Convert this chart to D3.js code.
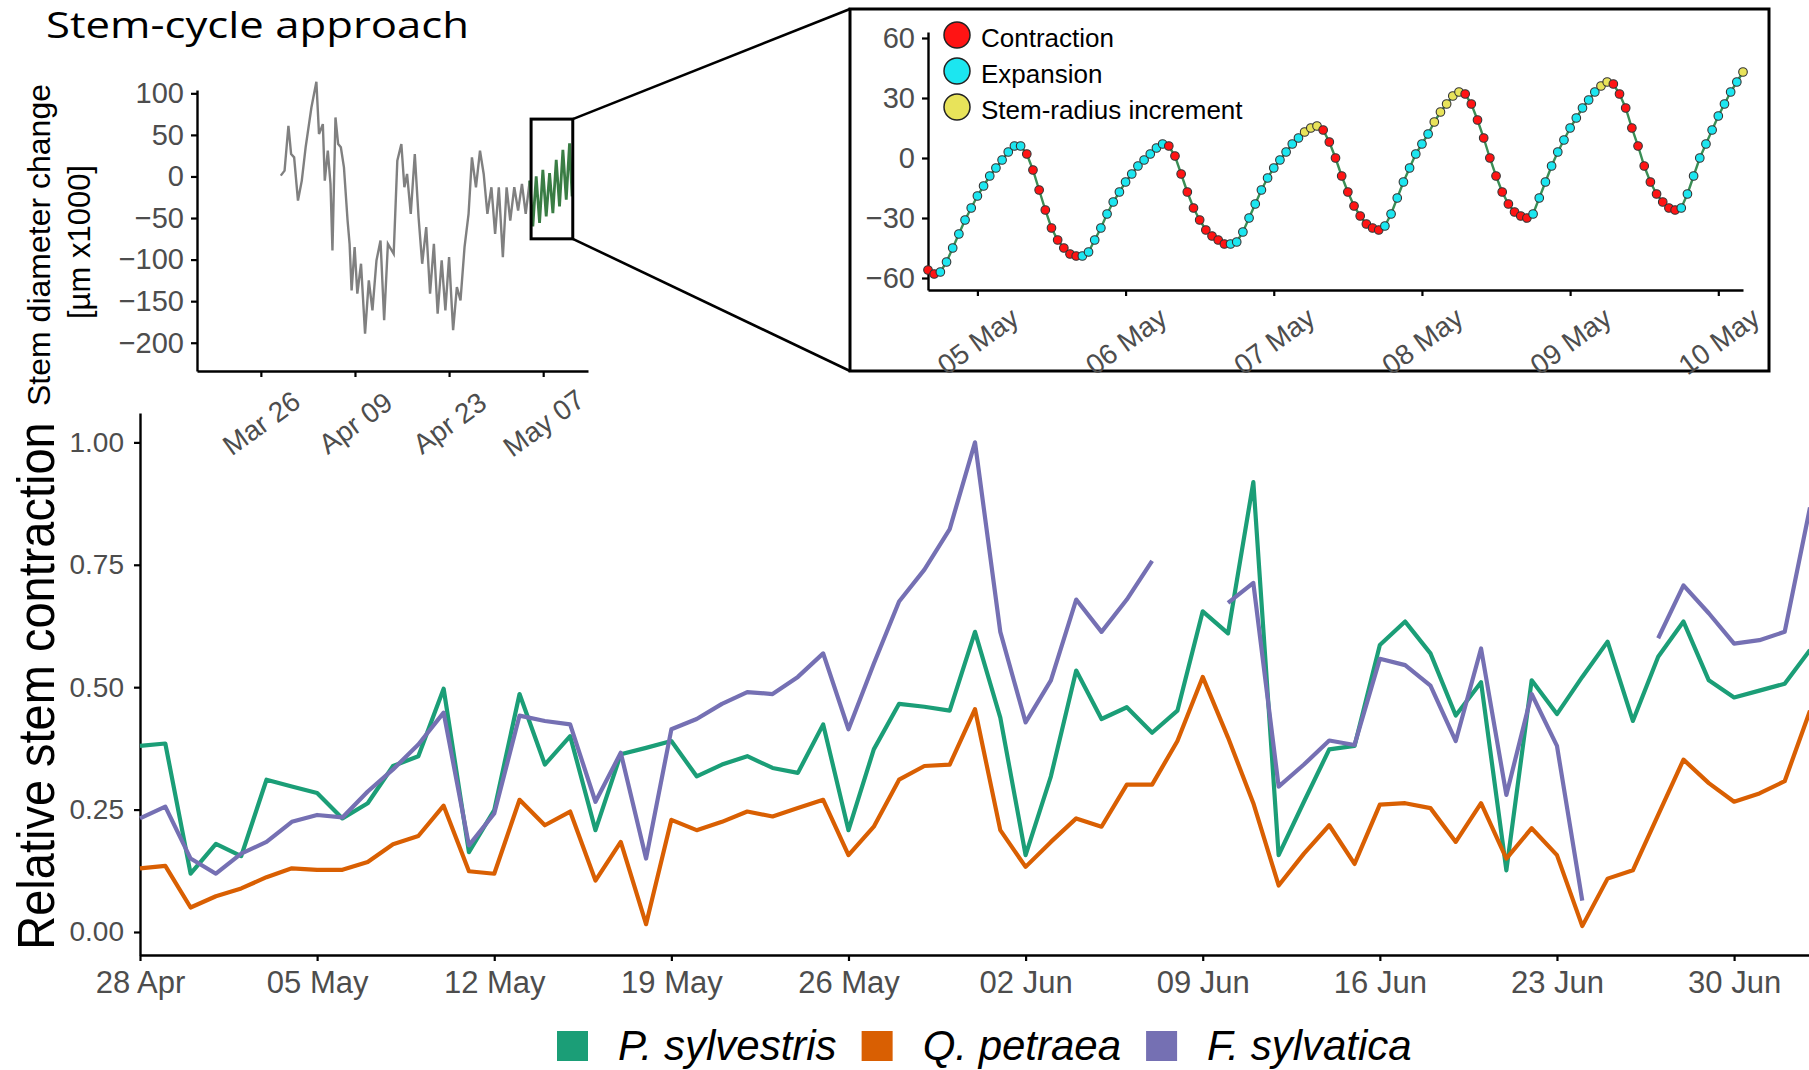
<!DOCTYPE html>
<html>
<head>
<meta charset="utf-8">
<script src="https://cdn.jsdelivr.net/npm/d3@7"></script>
<style>
  body { margin: 0; background: #fff; }
  svg { display: block; }
</style>
</head>
<body>
<div id="chart"></div>
<script>
var font = '"Liberation Sans", Arial, Helvetica, sans-serif';

// ---- main chart: relative stem contraction, one value per day from 28 Apr
var firstDay = new Date(2019, 3, 28);
var lastDay = new Date(2019, 6, 3);
var speciesNames = ["P. sylvestris", "Q. petraea", "F. sylvatica"];
var speciesColors = ["#1B9E77", "#D95F02", "#7570B3"];
var pinus = [0.38, 0.385, 0.119, 0.18, 0.155, 0.311, 0.297, 0.284, 0.232, 0.263,
  0.339, 0.359, 0.497, 0.163, 0.249, 0.486, 0.342, 0.40, 0.208, 0.363,
  0.376, 0.39, 0.318, 0.342, 0.359, 0.335, 0.325, 0.424, 0.208, 0.373,
  0.466, 0.46, 0.452, 0.613, 0.438, 0.157, 0.318, 0.534, 0.435, 0.459,
  0.407, 0.452, 0.655, 0.61, 0.919, 0.157, 0.266, 0.373, 0.38, 0.586,
  0.634, 0.569, 0.442, 0.51, 0.126, 0.514, 0.445, 0.521, 0.593, 0.431,
  0.562, 0.634, 0.514, 0.479, 0.493, 0.507, 0.576];
var quercus = [0.13, 0.135, 0.05, 0.073, 0.089, 0.112, 0.13, 0.127, 0.127, 0.143,
  0.179, 0.196, 0.258, 0.124, 0.119, 0.27, 0.218, 0.246, 0.105, 0.184,
  0.016, 0.229, 0.208, 0.225, 0.246, 0.236, 0.253, 0.27, 0.157, 0.215,
  0.311, 0.339, 0.342, 0.455, 0.208, 0.133, 0.184, 0.232, 0.215, 0.301,
  0.301, 0.39, 0.521, 0.397, 0.263, 0.095, 0.16, 0.218, 0.139, 0.26,
  0.263, 0.253, 0.184, 0.263, 0.15, 0.212, 0.157, 0.012, 0.109, 0.126,
  0.239, 0.352, 0.304, 0.266, 0.283, 0.308, 0.452];
var fagus = [0.232, 0.256, 0.15, 0.119, 0.16, 0.184, 0.225, 0.239, 0.234, 0.287,
  0.332, 0.383, 0.448, 0.177, 0.242, 0.442, 0.431, 0.424, 0.266, 0.366,
  0.15, 0.414, 0.435, 0.466, 0.49, 0.486, 0.521, 0.569, 0.414, 0.548,
  0.675, 0.74, 0.823, 1.0, 0.613, 0.428, 0.514, 0.679, 0.613, 0.679,
  0.758, null, null, 0.672, 0.713, 0.297, 0.342, 0.391, 0.382, 0.558,
  0.545, 0.503, 0.39, 0.579, 0.28, 0.486, 0.38, 0.064, null, null,
  0.6, 0.708, 0.651, 0.589, 0.596, 0.613, 0.867];
var contractionTicks = [0, 0.25, 0.5, 0.75, 1];

// ---- small panel: stem diameter change, days after 26 Mar
var panelOrigin = new Date(2019, 2, 26);
var panelTicks = ["2019-03-26", "2019-04-09", "2019-04-23", "2019-05-07"];
var panelValueTicks = [-200, -150, -100, -50, 0, 50, 100];
var stemDay = [2.96, 3.53, 4.10, 4.50, 4.95, 5.52, 6.09, 6.66, 7.52, 8.26,
  8.65, 9.22, 9.51, 9.96, 10.36, 10.65, 11.10, 11.50, 11.90, 12.36,
  12.90, 13.20, 13.50, 13.95, 14.35, 14.90, 15.50, 16.06, 16.60, 17.20,
  17.80, 18.34, 18.90, 19.76, 20.30, 20.90, 21.35, 21.75, 22.30, 22.90,
  23.46, 24.00, 24.60, 25.17, 25.74, 26.30, 26.90, 27.45, 28.00, 28.60,
  29.16, 29.70, 30.30, 30.90, 31.40, 32.00, 32.60, 33.15, 33.70, 34.30,
  34.85, 35.40, 36.00, 36.56, 37.10, 37.70, 38.27, 38.84, 39.40, 40.00,
  40.46, 40.96, 41.46, 41.95, 42.45, 42.95, 43.44, 43.94, 44.43, 44.93,
  45.43, 45.92, 46.30];
var stemValue = [1, 7, 61, 27, 23, -29, -5, 35, 83, 114,
  51, 63, -5, 31, -9, -89, 71, 39, 35, 11,
  -53, -81, -137, -85, -141, -105, -189, -125, -161, -101,
  -77, -173, -81, -93, 19, 39, -13, 3, -45, 27,
  -49, -105, -61, -141, -81, -165, -101, -161, -97, -185,
  -133, -149, -85, -45, 23, -13, 31, 3, -45, -13,
  -69, -13, -97, -13, -53, -13, -41, -9, -45, -5,
  -60, 0, -56, 8, -48, 4, -44, 20, -36, 32,
  -28, 40, -24];
var zoomFromDay = 40.0;
var boxDays = [40.2, 46.4];
var boxValues = [-75, 69];

// ---- inset: hourly stem radius change from 04 May 16:00
var insetStart = new Date(2019, 4, 4, 16);
var insetValues = [-56, -58, -57, -52, -45, -38, -31, -25, -19, -14, -9, -5, -1, 3, 6, 6,
  2, -6, -16, -26, -35, -41, -45, -48, -49, -49, -47,
  -41, -35, -28, -22, -17, -12, -8, -4, -1, 2, 5, 7, 6,
  1, -8, -17, -25, -31, -36, -39, -41, -43, -43, -42,
  -37, -30, -23, -16, -10, -5, -1, 3, 7, 10, 13, 15, 16,
  14, 8, 0, -9, -17, -24, -29, -33, -35, -36, -34,
  -28, -20, -12, -5, 2, 7, 12, 18, 23, 27, 31, 33, 32,
  27, 19, 10, 0, -9, -17, -23, -27, -29, -30, -28,
  -20, -12, -4, 3, 9, 15, 20, 25, 29, 33, 36, 38, 37,
  32, 25, 15, 6, -4, -12, -18, -22, -25, -26, -25,
  -18, -9, 0, 7, 14, 21, 27, 33, 38, 43];
var priorMax = 10;
var insetValueTicks = [-60, -30, 0, 30, 60];
var phaseNames = ["Contraction", "Expansion", "Stem-radius increment"];
var phaseColors = ["#FF1414", "#1CE6F0", "#E8E35A"];

var parseDay = d3.timeParse("%Y-%m-%d");

var svg = d3.select("#chart")
        .append("svg")
        .attr("width", 1809)
        .attr("height", 1070);

function styleAxis(g, size) {
    g.attr("font-family", font).attr("font-size", size);
    g.select(".domain").attr("stroke", "#000").attr("stroke-width", 2.4);
    g.selectAll(".tick line").attr("stroke", "#000").attr("stroke-width", 2.2);
    g.selectAll(".tick text").attr("fill", "#4D4D4D");
}

// the reference crops the top of this title; kept just inside the page here
svg.append("text")
        .attr("x", 46)
        .attr("y", 38)
        .attr("font-family", '"Open Sans", "Noto Sans", sans-serif')
        .attr("font-size", 36)
        .attr("textLength", 423)
        .attr("lengthAdjust", "spacingAndGlyphs")
        .attr("fill", "#000")
        .text("Stem-cycle approach");

// ================= small panel =================
var px = d3.scaleTime()
        .domain([new Date(2019, 2, 16, 12), new Date(2019, 4, 13, 16)])
        .range([197, 588]);
var py = d3.scaleLinear().domain([-234, 104]).range([371, 90]);

function dayToDate(d) {
    return new Date(panelOrigin.getTime() + d * 864e5);
}

var stemPoints = stemDay.map(function (d, i) {
    return {t: dayToDate(d), v: stemValue[i], day: d};
});

var panelX = svg.append("g")
        .attr("transform", "translate(0,371)")
        .call(d3.axisBottom(px)
            .tickValues(panelTicks.map(parseDay))
            .tickFormat(d3.timeFormat("%b %d"))
            .tickSize(6)
            .tickSizeOuter(0));
styleAxis(panelX, 28);
panelX.selectAll(".tick text")
        .attr("y", 0)
        .attr("dy", "0.35em")
        .attr("text-anchor", "middle")
        .attr("transform", "translate(0,52) rotate(-36)");

var panelY = svg.append("g")
        .attr("transform", "translate(197,0)")
        .call(d3.axisLeft(py)
            .tickValues(panelValueTicks)
            .tickSize(6)
            .tickPadding(7)
            .tickSizeOuter(0));
styleAxis(panelY, 29);

var stemLine = d3.line()
        .x(function (d) { return px(d.t); })
        .y(function (d) { return py(d.v); });

svg.append("path")
        .datum(stemPoints.filter(function (d) { return d.day <= zoomFromDay; }))
        .attr("d", stemLine)
        .attr("fill", "none")
        .attr("stroke", "#808080")
        .attr("stroke-width", 2.4);

svg.append("path")
        .datum(stemPoints.filter(function (d) { return d.day >= zoomFromDay; }))
        .attr("d", stemLine)
        .attr("fill", "none")
        .attr("stroke", "#3A7D44")
        .attr("stroke-width", 2.8);

var bx0 = px(dayToDate(boxDays[0])), bx1 = px(dayToDate(boxDays[1]));
var by0 = py(boxValues[1]), by1 = py(boxValues[0]);
svg.append("rect")
        .attr("x", bx0)
        .attr("y", by0)
        .attr("width", bx1 - bx0)
        .attr("height", by1 - by0)
        .attr("fill", "none")
        .attr("stroke", "#000")
        .attr("stroke-width", 3);

svg.append("text")
        .attr("transform", "translate(50,245) rotate(-90)")
        .attr("text-anchor", "middle")
        .attr("font-family", font)
        .attr("font-size", 32)
        .text("Stem diameter change");
svg.append("text")
        .attr("transform", "translate(90,242) rotate(-90)")
        .attr("text-anchor", "middle")
        .attr("font-family", font)
        .attr("font-size", 31)
        .text("[µm x1000]");

// ================= inset =================
var frame = {x0: 850, y0: 9, x1: 1769, y1: 371};
svg.append("rect")
        .attr("x", frame.x0)
        .attr("y", frame.y0)
        .attr("width", frame.x1 - frame.x0)
        .attr("height", frame.y1 - frame.y0)
        .attr("fill", "#fff")
        .attr("stroke", "#000")
        .attr("stroke-width", 3);

svg.append("line")
        .attr("x1", bx1).attr("y1", by0)
        .attr("x2", frame.x0).attr("y2", frame.y0)
        .attr("stroke", "#000").attr("stroke-width", 2.6);
svg.append("line")
        .attr("x1", bx1).attr("y1", by1)
        .attr("x2", frame.x0).attr("y2", frame.y1)
        .attr("stroke", "#000").attr("stroke-width", 2.6);

var insetPoints = [];
var runMax = priorMax;
insetValues.forEach(function (v, i) {
    var phase;
    if (v > runMax) { phase = 2; runMax = v; }
    else if (i === 0 || v < insetValues[i - 1]) { phase = 0; }
    else { phase = 1; }
    insetPoints.push({t: d3.timeHour.offset(insetStart, i), v: v, phase: phase});
});

var ix = d3.scaleTime()
        .domain([insetStart, insetPoints[insetPoints.length - 1].t])
        .range([928, 1743]);
var iy = d3.scaleLinear().domain([-66, 63]).range([290, 32]);

var insetX = svg.append("g")
        .attr("transform", "translate(0,290)")
        .call(d3.axisBottom(ix)
            .tickValues(d3.timeDay.range(new Date(2019, 4, 5), new Date(2019, 4, 11)))
            .tickFormat(d3.timeFormat("%d %b"))
            .tickSize(6)
            .tickSizeOuter(0));
styleAxis(insetX, 28);
insetX.selectAll(".tick text")
        .attr("y", 0)
        .attr("dy", "0.35em")
        .attr("text-anchor", "middle")
        .attr("transform", "translate(0,51) rotate(-36)");

var insetY = svg.append("g")
        .attr("transform", "translate(928,0)")
        .call(d3.axisLeft(iy)
            .tickValues(insetValueTicks)
            .tickSize(6)
            .tickPadding(7)
            .tickSizeOuter(0));
styleAxis(insetY, 29);

svg.append("path")
        .datum(insetPoints)
        .attr("d", d3.line()
            .x(function (d) { return ix(d.t); })
            .y(function (d) { return iy(d.v); }))
        .attr("fill", "none")
        .attr("stroke", "#3A8E55")
        .attr("stroke-width", 2.4);

svg.append("g")
        .selectAll("circle")
        .data(insetPoints)
        .join("circle")
        .attr("cx", function (d) { return ix(d.t); })
        .attr("cy", function (d) { return iy(d.v); })
        .attr("r", 4.3)
        .attr("fill", function (d) { return phaseColors[d.phase]; })
        .attr("stroke", "#333")
        .attr("stroke-width", 1.1);

var phaseLegend = svg.append("g").attr("transform", "translate(957,35)");
phaseNames.forEach(function (name, i) {
    phaseLegend.append("circle")
            .attr("cx", 0)
            .attr("cy", i * 36)
            .attr("r", 13)
            .attr("fill", phaseColors[i])
            .attr("stroke", "#222")
            .attr("stroke-width", 1.5);
    phaseLegend.append("text")
            .attr("x", 24)
            .attr("y", i * 36 + 12)
            .attr("font-family", font)
            .attr("font-size", 26)
            .attr("fill", "#000")
            .text(name);
});

// ================= main chart =================
var days = d3.timeDay.range(firstDay, d3.timeDay.offset(lastDay, 1));
var mx = d3.scaleTime().domain([firstDay, lastDay]).range([140, 1810]);
var my = d3.scaleLinear().domain([-0.047, 1.06]).range([955, 413]);

var mainX = svg.append("g")
        .attr("transform", "translate(0,955)")
        .call(d3.axisBottom(mx)
            .tickValues(d3.timeSunday.range(firstDay, lastDay))
            .tickFormat(d3.timeFormat("%d %b"))
            .tickSize(6)
            .tickPadding(10)
            .tickSizeOuter(0));
styleAxis(mainX, 31);

var mainY = svg.append("g")
        .attr("transform", "translate(140,0)")
        .call(d3.axisLeft(my)
            .tickValues(contractionTicks)
            .tickFormat(d3.format(".2f"))
            .tickSize(6)
            .tickPadding(10)
            .tickSizeOuter(0));
styleAxis(mainY, 28);

var seriesLine = d3.line()
        .defined(function (d) { return d.v != null; })
        .x(function (d) { return mx(d.t); })
        .y(function (d) { return my(d.v); });

[pinus, quercus, fagus].forEach(function (values, k) {
    svg.append("path")
            .datum(values.map(function (v, i) { return {t: days[i], v: v}; }))
            .attr("d", seriesLine)
            .attr("fill", "none")
            .attr("stroke", speciesColors[k])
            .attr("stroke-width", 4.2)
            .attr("stroke-linejoin", "round");
});

svg.append("text")
        .attr("transform", "translate(54,686) rotate(-90) scale(1,1.12)")
        .attr("text-anchor", "middle")
        .attr("font-family", font)
        .attr("font-size", 47)
        .attr("fill", "#000")
        .text("Relative stem contraction");

// legend along the bottom
var legend = svg.append("g");
var lx = 557;
speciesNames.forEach(function (name, k) {
    legend.append("rect")
            .attr("x", lx)
            .attr("y", 1031)
            .attr("width", 31)
            .attr("height", 30)
            .attr("fill", speciesColors[k]);
    var label = legend.append("text")
            .attr("x", lx + 61)
            .attr("y", 1060)
            .attr("font-family", font)
            .attr("font-size", 42)
            .attr("font-style", "italic")
            .attr("fill", "#000")
            .text(name);
    lx += 61 + label.node().getComputedTextLength() + 25;
});
</script>
</body>
</html>
